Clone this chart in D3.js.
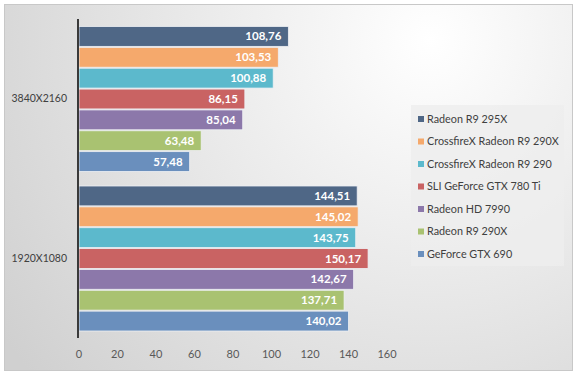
<!doctype html>
<html>
<head>
  <meta charset="utf8"/>
  <style>
    body { margin: 0; background: #fff; }
    text { font-family: Lato, "Open Sans", sans-serif; }
  </style>
</head>
<body>
  <svg width="577" height="376"></svg>
  <script src="https://d3js.org/d3.v7.min.js"></script>
  <script>
    // chart data
    var categories = ['3840X2160', '1920X1080'];
    var seriesNames = [
      'Radeon R9 295X',
      'CrossfireX Radeon R9 290X',
      'CrossfireX Radeon R9 290',
      'SLI GeForce GTX 780 Ti',
      'Radeon HD 7990',
      'Radeon R9 290X',
      'GeForce GTX 690'
    ];
    var res4k = [108.76, 103.53, 100.88, 86.15, 85.04, 63.48, 57.48];
    var res1080 = [144.51, 145.02, 143.75, 150.17, 142.67, 137.71, 140.02];
    var xTicks = [0, 20, 40, 60, 80, 100, 120, 140, 160];
    var colors = ['#4f6786', '#f5a96c', '#5cb9cc', '#c96363', '#8c78aa', '#a9c271', '#6a8fbd'];

    var values = [res4k, res1080];

    var svg = d3.select('svg');

    // background gradient
    var defs = svg.append('defs');
    var grad = defs.append('radialGradient')
      .attr('id', 'bg')
      .attr('gradientUnits', 'userSpaceOnUse')
      .attr('cx', 430).attr('cy', 40).attr('r', 520);
    grad.append('stop').attr('offset', '0%').attr('stop-color', '#ffffff');
    grad.append('stop').attr('offset', '100%').attr('stop-color', '#d0d0d0');

    svg.append('rect')
      .attr('x', 4.5).attr('y', 4.5)
      .attr('width', 568).attr('height', 366)
      .attr('fill', 'url(#bg)')
      .attr('stroke', '#c8c8c8');

    var x = d3.scaleLinear().domain([0, 160]).range([79, 387]);
    var y0 = d3.scaleBand().domain(categories).range([19, 338]);
    var y1 = d3.scaleBand().domain(seriesNames).range([7, 153]);

    // bars
    var groups = svg.selectAll('.grp')
      .data(categories)
      .enter().append('g')
        .attr('class', 'grp')
        .attr('transform', function(d) { return 'translate(0,' + y0(d) + ')'; });

    var bars = groups.selectAll('.bar')
      .data(function(d, i) {
        return values[i].map(function(v, j) { return {name: seriesNames[j], value: v, idx: j}; });
      })
      .enter().append('g').attr('class', 'bar');

    bars.append('rect')
      .attr('x', x(0))
      .attr('y', function(d) { return y1(d.name) + 0.5; })
      .attr('width', function(d) { return x(d.value) - x(0); })
      .attr('height', y1.bandwidth() - 1)
      .attr('fill', function(d) { return colors[d.idx]; })
      .attr('stroke', '#eef0f4')
      .attr('stroke-width', 0.8);

    bars.append('text')
      .attr('x', function(d) { return x(d.value) - 7; })
      .attr('y', function(d) { return y1(d.name) + y1.bandwidth() / 2; })
      .attr('dy', '0.35em')
      .attr('text-anchor', 'end')
      .attr('fill', '#ffffff')
      .style('font-size', '11.5px')
      .style('font-weight', 'bold')
      .text(function(d) { return d.value.toFixed(2).replace('.', ','); });

    // axis line
    svg.append('line')
      .attr('x1', 78).attr('x2', 78)
      .attr('y1', 19).attr('y2', 338)
      .attr('stroke', '#3a3a3a')
      .attr('stroke-width', 2);

    // category labels
    svg.selectAll('.cat')
      .data(categories)
      .enter().append('text')
        .attr('class', 'cat')
        .attr('x', 67)
        .attr('y', function(d) { return y0(d) + y0.bandwidth() / 2; })
        .attr('dy', '0.35em')
        .attr('text-anchor', 'end')
        .attr('fill', '#404040')
        .style('font-size', '10.5px')
        .text(function(d) { return d; });

    // x tick labels
    svg.selectAll('.tick')
      .data(xTicks)
      .enter().append('text')
        .attr('class', 'tick')
        .attr('x', function(d) { return x(d); })
        .attr('y', 354)
        .attr('dy', '0.35em')
        .attr('text-anchor', 'middle')
        .attr('fill', '#595959')
        .style('font-size', '11px')
        .text(function(d) { return d; });

    // legend
    var legend = svg.append('g').attr('transform', 'translate(411,105)');
    legend.append('rect')
      .attr('width', 153).attr('height', 161)
      .attr('fill', '#eeeeee')
      .attr('fill-opacity', 0.8);

    var item = legend.selectAll('.item')
      .data(seriesNames)
      .enter().append('g')
        .attr('class', 'item')
        .attr('transform', function(d, i) { return 'translate(0,' + (14 + i * 22.5) + ')'; });

    item.append('rect')
      .attr('x', 7).attr('y', -3)
      .attr('width', 6).attr('height', 6)
      .attr('fill', function(d, i) { return colors[i]; });

    item.append('text')
      .attr('x', 16)
      .attr('dy', '0.35em')
      .attr('fill', '#404040')
      .style('font-size', '10.8px')
      .text(function(d) { return d; });
  </script>
</body>
</html>
